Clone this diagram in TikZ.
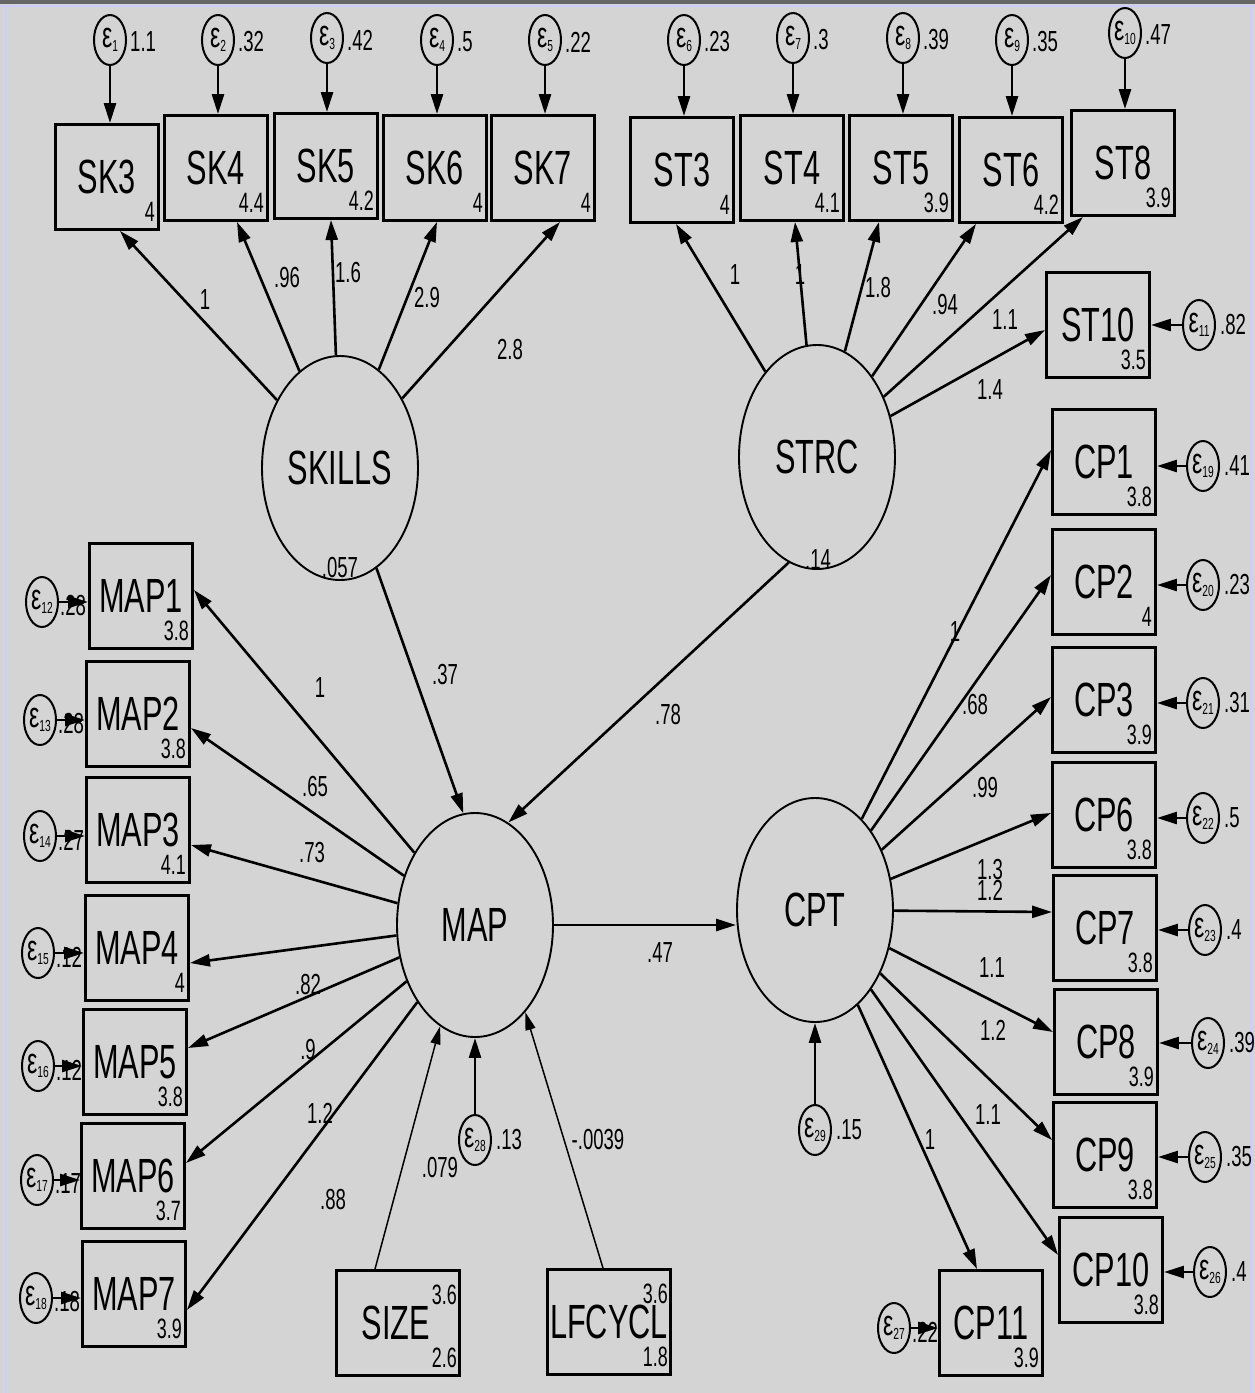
\documentclass[tikz,border=0pt]{standalone}
\usepackage{fontspec}
\setmainfont{Liberation Sans}[FakeStretch=0.64]
\usetikzlibrary{shapes.geometric,arrows.meta}
\definecolor{bg}{RGB}{212,212,212}
\newcommand\fBig{\fontsize{48}{48}\selectfont}
\newcommand\fNum{\fontsize{29}{29}\selectfont}
\newcommand\fInt{\fontsize{28}{28}\selectfont}
\newcommand\fEps{\fontsize{36}{36}\selectfont}
\newcommand\fSub{\fontsize{16}{16}\selectfont}
\newcommand\epsl[1]{{\fEps ε\raisebox{-4pt}{\fSub #1}}}
\tikzset{
  obs/.style={draw, line width=2.9pt, minimum width=103pt, minimum height=105pt, inner sep=0pt, font=\fBig},
  lat/.style={ellipse, draw, line width=1.9pt, minimum width=156pt, minimum height=224pt, inner sep=0pt, font=\fBig},
  err/.style={ellipse, draw, line width=2pt, minimum width=32pt, minimum height=50pt, inner sep=0pt},
  pth/.style={-{Triangle[length=20pt,width=12pt]}, line width=2.6pt},
  thinpth/.style={-{Triangle[length=18pt,width=10pt]}, line width=1.5pt},
  lbl/.style={font=\fNum, inner sep=0pt},
  ints/.style={font=\fInt, inner sep=0pt}
}
\newcommand\icpt[2]{\node[ints,anchor=south east] at ([shift={(-5,-9)}]#1.south east) {#2};}
\begin{document}
\begin{tikzpicture}[x=1pt,y=-1pt]
\useasboundingbox (0,0) rectangle (1255,1393);
\fill[bg] (0,0) rectangle (1255,1393);
\fill[black!60] (0,0) rectangle (1255,4);
\draw[blue!20,line width=2pt] (0,6) -- (1255,6);
\draw[blue!20,line width=2pt] (6,6) -- (6,1393);
\draw[blue!20,line width=2pt] (1251,6) -- (1251,1393);

% ---------- latent variables
\node[lat] (SKILLS) at (340,468) {SKILLS};
\node[lat] (STRC) at (817,457) {STRC};
\node[lat] (MAP) at (475,925) {MAP};
\node[lat] (CPT) at (815,910) {CPT};

% ---------- SKILLS indicators
\node[obs] (SK3) at (107,177) {SK3};
\node[obs] (SK4) at (216,168) {SK4};
\node[obs] (SK5) at (326,166) {SK5};
\node[obs] (SK6) at (435,168) {SK6};
\node[obs] (SK7) at (543,168) {SK7};
\icpt{SK3}{4}\icpt{SK4}{4.4}\icpt{SK5}{4.2}\icpt{SK6}{4}\icpt{SK7}{4}

% ---------- STRC indicators
\node[obs] (ST3) at (682,170) {ST3};
\node[obs] (ST4) at (792,168) {ST4};
\node[obs] (ST5) at (901,168) {ST5};
\node[obs] (ST6) at (1011,170) {ST6};
\node[obs] (ST8) at (1123,163) {ST8};
\node[obs] (ST10) at (1098,325) {ST10};
\icpt{ST3}{4}\icpt{ST4}{4.1}\icpt{ST5}{3.9}\icpt{ST6}{4.2}\icpt{ST8}{3.9}\icpt{ST10}{3.5}

% ---------- MAP indicators
\node[obs] (MAP1) at (141,596) {MAP1};
\node[obs] (MAP2) at (138,714) {MAP2};
\node[obs] (MAP3) at (138,830) {MAP3};
\node[obs] (MAP4) at (137,948) {MAP4};
\node[obs] (MAP5) at (135,1062) {MAP5};
\node[obs] (MAP6) at (133,1176) {MAP6};
\node[obs] (MAP7) at (134,1294) {MAP7};
\icpt{MAP1}{3.8}\icpt{MAP2}{3.8}\icpt{MAP3}{4.1}\icpt{MAP4}{4}\icpt{MAP5}{3.8}\icpt{MAP6}{3.7}\icpt{MAP7}{3.9}

% ---------- CPT indicators
\node[obs] (CP1) at (1104,462) {CP1};
\node[obs] (CP2) at (1104,582) {CP2};
\node[obs] (CP3) at (1104,700) {CP3};
\node[obs] (CP6) at (1104,815) {CP6};
\node[obs] (CP7) at (1105,928) {CP7};
\node[obs] (CP8) at (1106,1042) {CP8};
\node[obs] (CP9) at (1105,1155) {CP9};
\node[obs] (CP10) at (1111,1270) {CP10};
\node[obs] (CP11) at (991,1323) {CP11};
\icpt{CP1}{3.8}\icpt{CP2}{4}\icpt{CP3}{3.9}\icpt{CP6}{3.8}\icpt{CP7}{3.8}\icpt{CP8}{3.9}\icpt{CP9}{3.8}\icpt{CP10}{3.8}\icpt{CP11}{3.9}

% ---------- exogenous observed
\node[obs, minimum width=123pt] (SIZE) at (398,1323) {\hspace*{-4pt}SIZE};
\node[ints,anchor=north east] at ([shift={(-4,16)}]SIZE.north east) {3.6};
\node[ints,anchor=south east] at ([shift={(-4,-9)}]SIZE.south east) {2.6};
\node[obs, minimum width=123pt] (LFCYCL) at (609,1322) {LFCYCL};
\node[ints,anchor=north east] at ([shift={(-4,16)}]LFCYCL.north east) {3.6};
\node[ints,anchor=south east] at ([shift={(-4,-9)}]LFCYCL.south east) {1.8};

% ---------- error terms (top)
\node[err] (e1) at (110,40) {\epsl{1}};
\node[err] (e2) at (218,40) {\epsl{2}};
\node[err] (e3) at (327,38) {\epsl{3}};
\node[err] (e4) at (437,40) {\epsl{4}};
\node[err] (e5) at (545,40) {\epsl{5}};
\node[err] (e6) at (684,40) {\epsl{6}};
\node[err] (e7) at (793,38) {\epsl{7}};
\node[err] (e8) at (903,38) {\epsl{8}};
\node[err] (e9) at (1012,40) {\epsl{9}};
\node[err] (e10) at (1125,33) {\epsl{10}};
\foreach \e/\v in {e1/1.1,e2/.32,e3/.42,e4/.5,e5/.22,e6/.23,e7/.3,e8/.39,e9/.35,e10/.47}
  \node[lbl,anchor=west] at ([shift={(3,2)}]\e.east) {\v};
\foreach \e/\b in {e1/SK3,e2/SK4,e3/SK5,e4/SK6,e5/SK7,e6/ST3,e7/ST4,e8/ST5,e9/ST6,e10/ST8}
  \draw[pth] (\e.south) -- (\e.south |- \b.north);

% ---------- error terms (right)
\node[err] (e11) at (1199,325) {\epsl{11}};
\node[err] (e19) at (1203,466) {\epsl{19}};
\node[err] (e20) at (1203,585) {\epsl{20}};
\node[err] (e21) at (1203,703) {\epsl{21}};
\node[err] (e22) at (1203,818) {\epsl{22}};
\node[err] (e23) at (1205,930) {\epsl{23}};
\node[err] (e24) at (1208,1043) {\epsl{24}};
\node[err] (e25) at (1205,1157) {\epsl{25}};
\node[err] (e26) at (1210,1272) {\epsl{26}};
\foreach \e/\v in {e11/.82,e19/.41,e20/.23,e21/.31,e22/.5,e23/.4,e24/.39,e25/.35,e26/.4}
  \node[lbl,anchor=west] at ([shift={(4,0)}]\e.east) {\v};
\foreach \e/\b in {e11/ST10,e19/CP1,e20/CP2,e21/CP3,e22/CP6,e23/CP7,e24/CP8,e25/CP9,e26/CP10}
  \draw[pth] (\e.west) -- (\e.west -| \b.east);

% ---------- error terms (left)
\node[err] (e12) at (42,602) {\epsl{12}};
\node[err] (e13) at (40,720) {\epsl{13}};
\node[err] (e14) at (40,836) {\epsl{14}};
\node[err] (e15) at (38,953) {\epsl{15}};
\node[err] (e16) at (38,1066) {\epsl{16}};
\node[err] (e17) at (37,1180) {\epsl{17}};
\node[err] (e18) at (36,1298) {\epsl{18}};
\node[err] (e27) at (894,1328) {\epsl{27}};
\foreach \e/\v in {e12/.28,e13/.28,e14/.27,e15/.12,e16/.12,e17/.17,e18/.18,e27/.22}
  \node[lbl,anchor=west] at ([shift={(1,4)}]\e.east) {\v};
\foreach \e/\b in {e12/MAP1,e13/MAP2,e14/MAP3,e15/MAP4,e16/MAP5,e17/MAP6,e18/MAP7,e27/CP11}
  \draw[pth] (\e.east) -- (\e.east -| \b.west);

% ---------- structural disturbances
\node[err] (e28) at (475,1140) {\epsl{28}};
\node[err] (e29) at (815,1130) {\epsl{29}};
\node[lbl,anchor=west] at ([shift={(4,0)}]e28.east) {.13};
\node[lbl,anchor=west] at ([shift={(4,0)}]e29.east) {.15};
\draw[pth] (e28.north) -- (MAP.south);
\draw[pth] (e29.north) -- (CPT.south);

% ---------- SKILLS loadings
\draw[pth] (SKILLS) -- ([xshift=13pt]SK3.south);
\draw[pth] (SKILLS) -- ([xshift=21pt]SK4.south);
\draw[pth] (SKILLS) -- ([xshift=5pt]SK5.south);
\draw[pth] (SKILLS) -- ([xshift=2pt]SK6.south);
\draw[pth] (SKILLS) -- ([xshift=17pt]SK7.south);
\node[lbl] at (205,300) {1};
\node[lbl] at (287,278) {.96};
\node[lbl] at (348,273) {1.6};
\node[lbl] at (427,298) {2.9};
\node[lbl] at (510,350) {2.8};

% ---------- STRC loadings
\draw[pth] (STRC) -- ([xshift=-6pt]ST3.south);
\draw[pth] (STRC) -- ([xshift=3pt]ST4.south);
\draw[pth] (STRC) -- ([xshift=-22pt]ST5.south);
\draw[pth] (STRC) -- ([xshift=-35pt]ST6.south);
\draw[pth] (STRC) -- ([xshift=-40pt]ST8.south);
\draw[pth] (STRC) -- ([yshift=-5pt]ST10.west);
\node[lbl] at (735,275) {1};
\node[lbl] at (800,275) {1};
\node[lbl] at (878,288) {1.8};
\node[lbl] at (945,305) {.94};
\node[lbl] at (1005,320) {1.1};
\node[lbl] at (990,390) {1.4};

% ---------- structural paths
\node[lbl] at (340,568) {.057};
\node[lbl] at (818,560) {.14};
\draw[pth] (SKILLS.290) -- (MAP.96);
\node[lbl] at (445,675) {.37};
\draw[pth] (STRC.255) -- (MAP.72);
\node[lbl] at (668,715) {.78};
\draw[pth] (MAP.east) -- (CPT.west |- MAP.east);
\node[lbl] at (660,953) {.47};
\draw[thinpth] ([xshift=-23pt]SIZE.north) -- (MAP.251);
\node[lbl] at (440,1168) {.079};
\draw[thinpth] ([xshift=-6pt]LFCYCL.north) -- (MAP.300);
\node[lbl] at (598,1140) {-.0039};

% ---------- MAP loadings
\draw[pth] (MAP) -- ([yshift=6pt]MAP1.east);
\draw[pth] (MAP) -- ([yshift=-14pt]MAP2.east);
\draw[pth] (MAP) -- ([yshift=-15pt]MAP3.east);
\draw[pth] (MAP) -- ([yshift=-15pt]MAP4.east);
\draw[pth] (MAP) -- ([yshift=14pt]MAP5.east);
\draw[pth] (MAP) -- ([yshift=13pt]MAP6.east);
\draw[pth] (MAP) -- ([yshift=-16pt]MAP7.east);
\node[lbl] at (320,688) {1};
\node[lbl] at (315,787) {.65};
\node[lbl] at (312,853) {.73};
\node[lbl] at (308,985) {.82};
\node[lbl] at (308,1050) {.9};
\node[lbl] at (320,1113) {1.2};
\node[lbl] at (333,1200) {.88};

% ---------- CPT loadings
\draw[pth] (CPT) -- ([yshift=12pt]CP1.west);
\draw[pth] (CPT) -- ([yshift=7pt]CP2.west);
\draw[pth] (CPT) -- ([yshift=3pt]CP3.west);
\draw[pth] (CPT) -- ([yshift=2pt]CP6.west);
\draw[pth] (CPT) -- ([yshift=16pt]CP7.west);
\draw[pth] (CPT) -- ([yshift=10pt]CP8.west);
\draw[pth] (CPT) -- ([yshift=15pt]CP9.west);
\draw[pth] (CPT) -- ([yshift=15pt]CP10.west);
\draw[pth] (CPT) -- ([xshift=-14pt]CP11.north);
\node[lbl] at (955,632) {1};
\node[lbl] at (975,705) {.68};
\node[lbl] at (985,788) {.99};
\node[lbl] at (990,870) {1.3};
\node[lbl] at (990,890) {1.2};
\node[lbl] at (992,968) {1.1};
\node[lbl] at (993,1030) {1.2};
\node[lbl] at (988,1115) {1.1};
\node[lbl] at (930,1140) {1};
\end{tikzpicture}
\end{document}
